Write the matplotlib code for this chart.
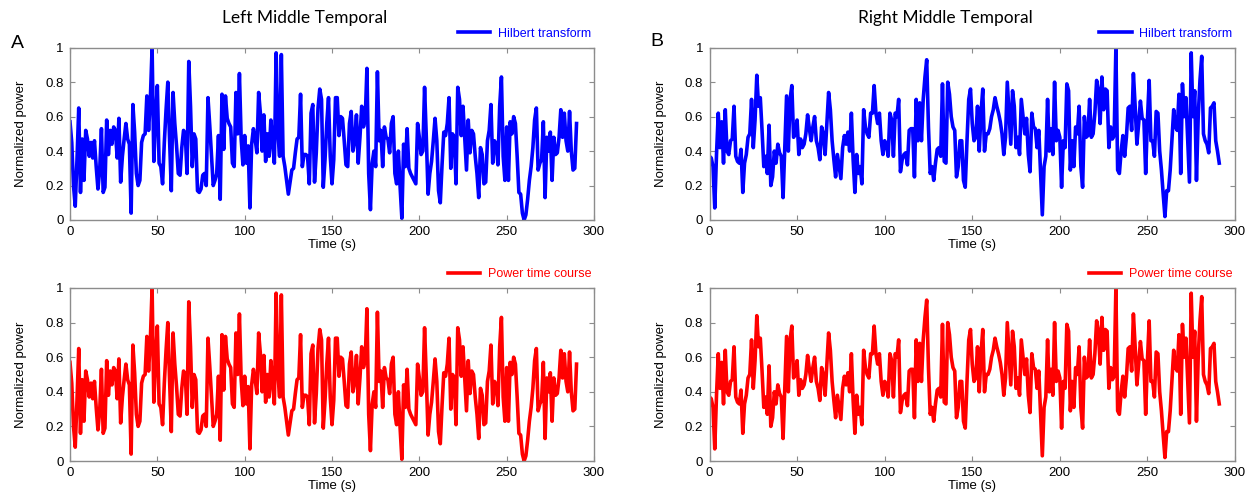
import numpy as np
import matplotlib
matplotlib.use("Agg")
import matplotlib.pyplot as plt

# Values (normalized power, one sample per second)
leftValues = [
    0.57, 0.45, 0.20, 0.08, 0.35, 0.65, 0.16, 0.47, 0.23, 0.52,
    0.47, 0.37, 0.45, 0.36, 0.46, 0.31, 0.18, 0.29, 0.53, 0.16,
    0.19, 0.58, 0.38, 0.52, 0.44, 0.54, 0.52, 0.36, 0.59, 0.22,
    0.37, 0.47, 0.56, 0.47, 0.44, 0.04, 0.67, 0.51, 0.27, 0.20,
    0.23, 0.45, 0.49, 0.50, 0.72, 0.52, 0.70, 1.00, 0.34, 0.60,
    0.78, 0.33, 0.31, 0.21, 0.45, 0.64, 0.80, 0.47, 0.17, 0.74,
    0.56, 0.43, 0.27, 0.26, 0.42, 0.52, 0.50, 0.27, 0.92, 0.66,
    0.31, 0.50, 0.47, 0.17, 0.16, 0.18, 0.26, 0.27, 0.20, 0.71,
    0.55, 0.37, 0.20, 0.23, 0.27, 0.49, 0.12, 0.73, 0.41, 0.72,
    0.59, 0.56, 0.54, 0.33, 0.31, 0.74, 0.50, 0.85, 0.47, 0.32,
    0.49, 0.33, 0.43, 0.07, 0.44, 0.53, 0.47, 0.39, 0.74, 0.62,
    0.40, 0.61, 0.34, 0.50, 0.37, 0.58, 0.45, 0.33, 0.97, 0.51,
    0.37, 0.96, 0.37, 0.31, 0.23, 0.15, 0.22, 0.29, 0.30, 0.39,
    0.47, 0.48, 0.73, 0.31, 0.38, 0.38, 0.37, 0.21, 0.62, 0.67,
    0.22, 0.39, 0.65, 0.76, 0.70, 0.19, 0.35, 0.56, 0.71, 0.37,
    0.21, 0.35, 0.71, 0.71, 0.49, 0.60, 0.59, 0.46, 0.32, 0.31,
    0.56, 0.63, 0.40, 0.46, 0.61, 0.33, 0.48, 0.66, 0.54, 0.58,
    0.88, 0.27, 0.06, 0.33, 0.40, 0.31, 0.86, 0.46, 0.52, 0.31,
    0.54, 0.48, 0.47, 0.39, 0.56, 0.60, 0.27, 0.21, 0.40, 0.19,
    0.01, 0.44, 0.31, 0.53, 0.30, 0.27, 0.25, 0.23, 0.21, 0.56,
    0.48, 0.38, 0.40, 0.77, 0.48, 0.15, 0.27, 0.34, 0.46, 0.59,
    0.46, 0.17, 0.10, 0.32, 0.51, 0.49, 0.56, 0.71, 0.30, 0.50,
    0.48, 0.21, 0.77, 0.70, 0.49, 0.66, 0.48, 0.29, 0.58, 0.39,
    0.52, 0.50, 0.37, 0.27, 0.13, 0.42, 0.38, 0.21, 0.22, 0.46,
    0.52, 0.67, 0.33, 0.46, 0.44, 0.32, 0.66, 0.83, 0.37, 0.23,
    0.54, 0.23, 0.57, 0.50, 0.60, 0.56, 0.37, 0.16, 0.15, 0.04,
    0.00, 0.03, 0.12, 0.23, 0.31, 0.42, 0.58, 0.65, 0.29, 0.33,
    0.35, 0.57, 0.13, 0.48, 0.40, 0.51, 0.23, 0.48, 0.38, 0.39,
    0.48, 0.64, 0.48, 0.62, 0.46, 0.40, 0.63, 0.40, 0.29, 0.30,
    0.56,
]

rightValues = [
    0.37, 0.36, 0.31, 0.07, 0.38, 0.62, 0.42, 0.57, 0.33, 0.64,
    0.40, 0.38, 0.46, 0.47, 0.66, 0.37, 0.34, 0.33, 0.41, 0.16,
    0.33, 0.38, 0.48, 0.50, 0.70, 0.42, 0.58, 0.84, 0.66, 0.71,
    0.52, 0.31, 0.37, 0.27, 0.55, 0.20, 0.25, 0.40, 0.33, 0.44,
    0.39, 0.37, 0.13, 0.42, 0.72, 0.40, 0.70, 0.78, 0.48, 0.50,
    0.58, 0.38, 0.47, 0.42, 0.44, 0.50, 0.61, 0.53, 0.46, 0.54,
    0.60, 0.46, 0.42, 0.35, 0.54, 0.50, 0.38, 0.56, 0.74, 0.64,
    0.46, 0.35, 0.25, 0.38, 0.31, 0.24, 0.42, 0.49, 0.44, 0.51,
    0.40, 0.62, 0.35, 0.16, 0.38, 0.27, 0.31, 0.21, 0.64, 0.54,
    0.50, 0.48, 0.62, 0.62, 0.78, 0.62, 0.56, 0.62, 0.46, 0.38,
    0.46, 0.44, 0.37, 0.62, 0.58, 0.37, 0.62, 0.60, 0.70, 0.28,
    0.35, 0.38, 0.39, 0.32, 0.52, 0.53, 0.53, 0.25, 0.70, 0.46,
    0.68, 0.46, 0.70, 0.83, 0.93, 0.54, 0.27, 0.31, 0.23, 0.33,
    0.41, 0.42, 0.37, 0.79, 0.34, 0.33, 0.80, 0.73, 0.60, 0.54,
    0.52, 0.25, 0.31, 0.46, 0.46, 0.23, 0.19, 0.46, 0.70, 0.76,
    0.56, 0.46, 0.48, 0.66, 0.40, 0.62, 0.76, 0.40, 0.50, 0.50,
    0.53, 0.60, 0.64, 0.71, 0.66, 0.62, 0.57, 0.50, 0.38, 0.48,
    0.80, 0.62, 0.44, 0.75, 0.66, 0.42, 0.48, 0.38, 0.70, 0.60,
    0.50, 0.59, 0.38, 0.28, 0.62, 0.54, 0.53, 0.42, 0.52, 0.27,
    0.03, 0.31, 0.37, 0.70, 0.40, 0.53, 0.38, 0.80, 0.46, 0.52,
    0.48, 0.19, 0.46, 0.42, 0.79, 0.75, 0.29, 0.46, 0.31, 0.54,
    0.50, 0.66, 0.31, 0.19, 0.60, 0.48, 0.49, 0.70, 0.48, 0.50,
    0.62, 0.81, 0.75, 0.56, 0.83, 0.64, 0.76, 0.75, 0.42, 0.54,
    0.47, 0.49, 1.00, 0.29, 0.27, 0.40, 0.49, 0.37, 0.48, 0.65,
    0.66, 0.52, 0.85, 0.66, 0.44, 0.56, 0.69, 0.59, 0.58, 0.27,
    0.58, 0.81, 0.46, 0.46, 0.37, 0.63, 0.62, 0.40, 0.29, 0.15,
    0.02, 0.17, 0.17, 0.29, 0.46, 0.64, 0.54, 0.52, 0.73, 0.27,
    0.79, 0.60, 0.71, 0.46, 0.22, 0.97, 0.60, 0.75, 0.23, 0.60,
    0.81, 0.95, 0.50, 0.46, 0.44, 0.39, 0.65, 0.66, 0.68, 0.46,
    0.40, 0.33,
]

# The power time course traces are the same signals as the Hilbert ones
leftPower  = list(leftValues)
rightPower = list(rightValues)

leftTime  = np.arange(len(leftValues))
rightTime = np.arange(len(rightValues))

titles  = ["Left Middle Temporal", "Right Middle Temporal"]
letters = ["A", "B"]
xTicks  = [0, 50, 100, 150, 200, 250, 300]
yTicks  = [0, 0.2, 0.4, 0.6, 0.8, 1]
yLabels = ["0", "0.2", "0.4", "0.6", "0.8", "1"]

#------------------------------------------------------------------------------#

plt.rcParams['font.family'] = ['Liberation Sans', 'DejaVu Sans']

W, H = 1252, 497
fig = plt.figure(figsize=(W / 100, H / 100), dpi=100)

def px_axes(x0, y0, x1, y1):
    return fig.add_axes([x0 / W, 1 - y1 / H, (x1 - x0) / W, (y1 - y0) / H])

def style_axes(ax):
    ax.set_xlim(0, 300)
    ax.set_ylim(0, 1)
    ax.set_xticks(xTicks)
    ax.set_yticks(yTicks)
    ax.set_yticklabels(yLabels)
    for sp in ax.spines.values():
        sp.set_color("#8c8c8c")
        sp.set_linewidth(1.0)
    ax.tick_params(direction="in", top=True, right=True, length=3.5,
                   width=0.8, color="#8c8c8c", labelsize=9.5, pad=4.5)
    ax.set_xlabel("Time (s)", fontsize=9.5, labelpad=0.5)
    ax.set_ylabel("Normalized power", fontsize=9.5, labelpad=13)

def add_legend(ax):
    ax.legend(loc="lower right", bbox_to_anchor=(1.01, 1.0), frameon=False,
              labelcolor="linecolor", fontsize=9, handlelength=2.6,
              handletextpad=0.6, borderaxespad=0.45, borderpad=0.2)

axLeft = [(70, 594), (709.5, 1235)]
series = [(leftTime, leftValues, leftPower), (rightTime, rightValues, rightPower)]

for iCol in range(2):
    x0, x1 = axLeft[iCol]
    t, hil, pwr = series[iCol]

    axTop = px_axes(x0, 47.7, x1, 220)
    axTop.plot(t, hil, color="#0000ff", lw=2.6, label="Hilbert transform")
    style_axes(axTop)
    add_legend(axTop)

    axBot = px_axes(x0, 288, x1, 461)
    axBot.plot(t, pwr, color="#ff0000", lw=2.6, label="Power time course")
    style_axes(axBot)
    add_legend(axBot)

# Titles and panel letters
fig.text(305 / W, 1 - 18 / H, titles[0], ha="center", va="center",
         fontsize=12.5, family=["Lato", "DejaVu Sans"])
fig.text(945 / W, 1 - 18 / H, titles[1], ha="center", va="center",
         fontsize=12.5, family=["Lato", "DejaVu Sans"])
fig.text(17 / W, 1 - 43 / H, letters[0], ha="center", va="center", fontsize=14)
fig.text(657 / W, 1 - 42 / H, letters[1], ha="center", va="center", fontsize=14)

fig.savefig("out.png", dpi=100)
